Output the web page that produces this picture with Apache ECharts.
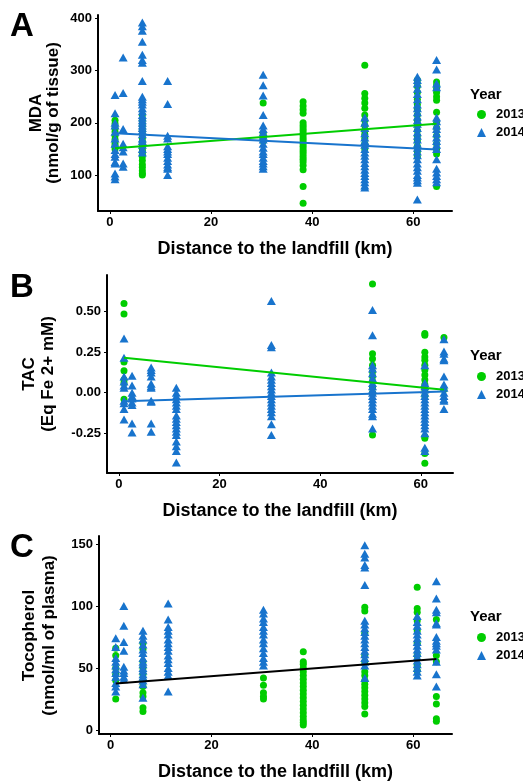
<!DOCTYPE html>
<html>
<head>
<meta charset="utf-8">
<script src="https://cdn.jsdelivr.net/npm/echarts@6/dist/echarts.min.js"></script>
<style>
  html, body { margin: 0; padding: 0; background: #fff; }
  #chart { width: 523px; height: 782px; }
</style>
</head>
<body>
<div id="chart"></div>
<script>
// Sampling sites: distance to the landfill (km)
const sites = [1, 2.6, 6.4, 11.4, 30.3, 38.2, 50.4, 60.8, 64.6];

// MDA (nmol/g of tissue), one list of measurements per site
const mda2013 = [
  [205, 198, 190, 183, 175, 168, 160, 155, 150],
  [],
  [215, 205, 195, 185, 178, 170, 163, 158, 150, 145, 140, 135, 128, 120, 115, 108, 103, 100],
  [],
  [238, 180, 172, 165],
  [240, 232, 225, 218, 200, 195, 190, 185, 180, 175, 170, 165, 160, 155, 150, 145, 140, 135, 130, 125, 118, 110, 78, 46],
  [310, 256, 247, 238, 228, 215, 205, 195, 185, 178, 170, 160, 150],
  [282, 270, 258, 245, 235, 225, 215, 205, 195, 185, 175, 165, 155, 145, 135],
  [278, 272, 265, 258, 250, 243, 220, 200, 190, 175, 160, 150, 140, 78]
];
const mda2014 = [
  [253, 218, 200, 195, 183, 170, 160, 148, 140, 135, 125, 122, 103, 97, 92],
  [325, 257, 188, 160, 153, 145, 122, 116],
  [392, 385, 376, 355, 330, 320, 315, 280, 250, 245, 240, 235, 228, 222, 215, 210, 205, 200, 195, 190, 185, 178, 170, 165, 158, 150, 143],
  [280, 236, 175, 170, 155, 150, 145, 140, 133, 127, 120, 115, 112, 100],
  [292, 272, 252, 215, 195, 188, 182, 175, 168, 160, 152, 145, 140, 133, 127, 122, 117, 112],
  [],
  [210, 200, 190, 180, 172, 165, 158, 150, 143, 137, 130, 123, 117, 110, 104, 98, 92, 86, 80, 76],
  [288, 282, 275, 265, 255, 245, 235, 228, 220, 212, 205, 198, 190, 182, 175, 168, 160, 152, 145, 138, 130, 122, 115, 108, 100, 95, 90, 85, 53],
  [320, 302, 275, 268, 210, 203, 195, 188, 180, 172, 165, 158, 150, 130, 112, 105, 98, 92, 86]
];

// TAC (Eq Fe 2+ mM)
const tac2013 = [
  [0.55, 0.485, 0.19, 0.135, 0.08, 0.06, -0.04],
  [],
  [],
  [],
  [],
  [],
  [0.67, 0.24, 0.21, 0.17, 0.13, 0.1, 0.07, 0.03, 0.0, -0.26],
  [0.365, 0.355, 0.25, 0.22, 0.2, 0.17, 0.14, 0.11, 0.08, 0.05, 0.02, -0.02, -0.27, -0.28, -0.375, -0.435],
  [0.34, 0.02]
];
const tac2014 = [
  [0.335, 0.215, 0.1, 0.07, 0.045, 0.03, -0.05, -0.065, -0.1, -0.165],
  [0.105, 0.045, 0.0, -0.02, -0.035, -0.06, -0.075, -0.19, -0.245],
  [0.155, 0.14, 0.125, 0.1, 0.055, 0.04, 0.03, -0.05, -0.055, -0.19, -0.24],
  [0.03, 0.0, -0.02, -0.04, -0.06, -0.08, -0.1, -0.14, -0.16, -0.18, -0.2, -0.22, -0.24, -0.26, -0.3, -0.33, -0.36, -0.43],
  [0.565, 0.295, 0.28, 0.125, 0.1, 0.08, 0.06, 0.04, 0.02, 0.0, -0.02, -0.04, -0.06, -0.08, -0.1, -0.12, -0.145, -0.195, -0.26],
  [],
  [0.51, 0.355, 0.17, 0.15, 0.12, 0.09, 0.06, 0.04, 0.02, 0.0, -0.02, -0.04, -0.06, -0.08, -0.1, -0.13, -0.145, -0.22],
  [0.17, 0.06, 0.04, 0.02, 0.0, -0.02, -0.04, -0.06, -0.08, -0.1, -0.12, -0.14, -0.16, -0.18, -0.2, -0.22, -0.25, -0.34, -0.36],
  [0.33, 0.255, 0.24, 0.21, 0.2, 0.1, 0.05, 0.03, 0.0, -0.02, -0.04, -0.05, -0.1]
];

// Tocopherol (nmol/ml of plasma)
const toc2013 = [
  [66, 60, 50, 45, 40, 25],
  [],
  [70, 65, 55, 50, 45, 40, 35, 30, 27, 18, 15],
  [],
  [42, 36, 30, 27, 25],
  [63, 55, 53, 50, 47, 44, 41, 38, 35, 32, 29, 26, 23, 20, 17, 14, 11, 8, 6, 4],
  [99, 96, 78, 60, 55, 47, 44, 40, 37, 34, 31, 28, 25, 22, 19, 13],
  [115, 98, 95, 88, 80, 70, 60, 52, 48],
  [89, 60, 55, 27, 21, 9, 7]
];
const toc2014 = [
  [74, 67, 58, 55, 52, 49, 46, 43, 38, 35, 31],
  [100, 84, 71, 64, 51, 48, 46, 43, 41],
  [80, 76, 73, 69, 65, 62, 58, 55, 53, 50, 48, 45, 43, 40, 37, 26],
  [102, 89, 83, 80, 77, 73, 70, 67, 64, 60, 57, 54, 50, 47, 44, 31],
  [97, 94, 90, 87, 83, 80, 77, 73, 70, 66, 62, 58, 55, 52],
  [],
  [149, 142, 139, 133, 131, 117, 88, 85, 82, 79, 76, 73, 70, 67, 64, 61, 58, 55, 52, 42],
  [92, 87, 84, 80, 77, 74, 71, 68, 65, 62, 59, 56, 53, 50, 47, 44],
  [120, 106, 97, 95, 86, 85, 75, 72, 70, 68, 65, 55, 45, 35]
];

// Fitted regression lines (values at the nearest and farthest site)
const fitX = [1, 64.6];
const mdaFit2013 = [151, 198];
const mdaFit2014 = [180, 149];
const tacFit2013 = [0.215, 0.018];
const tacFit2014 = [-0.052, 0.008];
const tocFitAll = [37.6, 57.2];

// Axis tick labels
const distTicks = [0, 20, 40, 60];
const mdaTicks = [100, 200, 300, 400];
const tacTicks = [-0.25, 0, 0.25, 0.5];
const tocTicks = [0, 50, 100, 150];

const GREEN = '#00CD00';
const BLUE = '#1874CD';
const FONT = '"Liberation Sans", Arial, sans-serif';

function toPoints(perSite) {
  const pts = [];
  perSite.forEach((vals, i) => vals.forEach(v => pts.push([sites[i], v])));
  return pts;
}
function toLine(ends) {
  return fitX.map((x, i) => [x, ends[i]]);
}

const panels = [
  { grid: { left: 98, top: 15, width: 354, height: 196 }, xr: [-2.37, 67.65], yr: [31.1, 406.3],
    yTicks: mdaTicks, yTitle: ['MDA', '(nmol/g of tissue)'], titleX: [36, 53], d13: mda2013, d14: mda2014,
    fits: [[mdaFit2013, GREEN], [mdaFit2014, BLUE]], fmt: v => String(v),
    letter: 'A', letterY: 10, legendTop: 103, yearY: 87 },
  { grid: { left: 107, top: 275, width: 346, height: 198 }, xr: [-2.38, 66.4], yr: [-0.495, 0.726],
    yTicks: tacTicks, yTitle: ['TAC', '(Eq Fe 2+ mM)'], titleX: [29, 48], d13: tac2013, d14: tac2014,
    fits: [[tacFit2013, GREEN], [tacFit2014, BLUE]], fmt: v => v.toFixed(2),
    letter: 'B', letterY: 271, legendTop: 365, yearY: 348 },
  { grid: { left: 99, top: 536, width: 353, height: 199 }, xr: [-2.32, 67.7], yr: [-3.2, 156.4],
    yTicks: tocTicks, yTitle: ['Tocopherol', '(nmol/ml of plasma)'], titleX: [29, 49], d13: toc2013, d14: toc2014,
    fits: [[tocFitAll, '#000000']], fmt: v => String(v),
    letter: 'C', letterY: 531, legendTop: 626, yearY: 609 }
];

const axisLineStyle = { onZero: false, lineStyle: { color: '#000', width: 2 } };
const tickStyle = { show: true, length: 3, lineStyle: { color: '#000', width: 1 } };
const labelStyle = { color: '#000', fontFamily: FONT, fontWeight: 'bold', fontSize: 13 };
const titleStyle = { color: '#000', fontFamily: FONT, fontWeight: 'bold', fontSize: 18 };

// Rotated two-line y-axis titles, centred on each panel's plotting area
function yTitleTexts(p) {
  const cy = p.grid.top + p.grid.height / 2;
  return p.yTitle.map((t, k) => ({
    type: 'text', x: p.titleX[k], y: cy, rotation: Math.PI / 2,
    style: { text: t, fontFamily: FONT, fontWeight: 'bold', fontSize: 17, fill: '#000',
             align: 'center', verticalAlign: 'middle' }
  }));
}

const option = {
  animation: false,
  backgroundColor: '#fff',
  grid: panels.map(p => Object.assign({ containLabel: false }, p.grid)),
  xAxis: panels.map((p, i) => ({
    type: 'value', gridIndex: i, min: p.xr[0], max: p.xr[1],
    axisLine: axisLineStyle,
    axisTick: Object.assign({ customValues: distTicks }, tickStyle),
    axisLabel: Object.assign({ customValues: distTicks, margin: 5 }, labelStyle),
    splitLine: { show: false },
    name: 'Distance to the landfill (km)', nameLocation: 'middle', nameGap: 29,
    nameTextStyle: titleStyle
  })),
  yAxis: panels.map((p, i) => ({
    type: 'value', gridIndex: i, min: p.yr[0], max: p.yr[1],
    axisLine: axisLineStyle,
    axisTick: Object.assign({ customValues: p.yTicks }, tickStyle),
    axisLabel: Object.assign({ customValues: p.yTicks, margin: 6, formatter: p.fmt }, labelStyle),
    splitLine: { show: false }
  })),
  legend: panels.map(p => ({
    orient: 'vertical', left: 472, top: p.legendTop,
    itemWidth: 9, itemHeight: 9, itemGap: 5,
    data: [{ name: '2013', icon: 'circle' }, { name: '2014', icon: 'triangle' }],
    textStyle: { color: '#000', fontFamily: FONT, fontWeight: 'bold', fontSize: 13, padding: [0, 0, 0, 5] },
    selectedMode: false
  })),
  graphic: panels.flatMap(p => [
    { type: 'text', left: 10, top: p.letterY,
      style: { text: p.letter, fontFamily: FONT, fontWeight: 'bold', fontSize: 33, fill: '#000' } },
    { type: 'text', left: 470, top: p.yearY,
      style: { text: 'Year', fontFamily: FONT, fontWeight: 'bold', fontSize: 15, fill: '#000' } }
  ].concat(yTitleTexts(p))),
  series: panels.flatMap((p, i) => {
    const s = [
      { name: '2013', type: 'scatter', xAxisIndex: i, yAxisIndex: i, data: toPoints(p.d13),
        symbol: 'circle', symbolSize: 7, itemStyle: { color: GREEN, opacity: 1 }, z: 2 },
      { name: '2014', type: 'scatter', xAxisIndex: i, yAxisIndex: i, data: toPoints(p.d14),
        symbol: 'triangle', symbolSize: [9, 8], itemStyle: { color: BLUE, opacity: 1 }, z: 3 }
    ];
    p.fits.forEach(([ends, color]) => s.push({
      name: 'fit', type: 'line', xAxisIndex: i, yAxisIndex: i, data: toLine(ends),
      showSymbol: false, silent: true, lineStyle: { color: color, width: 2 }, z: 4
    }));
    return s;
  })
};

const chart = echarts.init(document.getElementById('chart'), null, { renderer: 'canvas' });
chart.setOption(option);
</script>
</body>
</html>
